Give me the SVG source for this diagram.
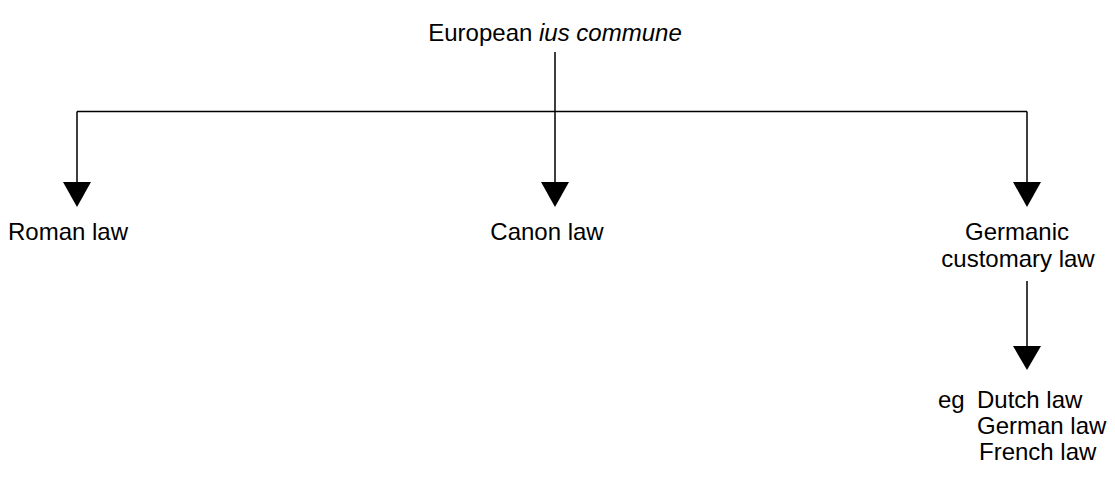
<svg xmlns="http://www.w3.org/2000/svg" width="1115" height="482" viewBox="0 0 1115 482">
<defs>
<style>
text{font-family:"Liberation Sans",Arial,sans-serif;font-size:24px;fill:#000}
.c{fill:none;stroke:#000;stroke-width:1.5}
.h{fill:#000;stroke:none}
</style>
</defs>
<rect width="1115" height="482" fill="#fff"/>
<g id="connectors">
<path class="c" d="M555,52 V111.5 M77,111.5 H1027 M77,111.5 V183 M555,111.5 V183 M1027,111.5 V183 M1027,281 V347"/>
<polygon class="h" points="63,182 91,182 77,207"/>
<polygon class="h" points="541,182 569,182 555,207"/>
<polygon class="h" points="1013,182 1041,182 1027,207"/>
<polygon class="h" points="1013,346 1041,346 1027,370"/>
</g>
<g id="ius-commune"><text x="555" y="41" text-anchor="middle">European <tspan font-style="italic">ius commune</tspan></text></g>
<g id="roman-law"><text x="8" y="240">Roman law</text></g>
<g id="canon-law"><text x="547" y="240" text-anchor="middle">Canon law</text></g>
<g id="germanic-law"><text x="1017" y="240" text-anchor="middle">Germanic</text><text x="1018" y="267" text-anchor="middle">customary law</text></g>
<g id="examples"><text x="938" y="408">eg</text><text x="977" y="408">Dutch law</text><text x="977" y="434">German law</text><text x="979" y="460">French law</text></g>
</svg>
